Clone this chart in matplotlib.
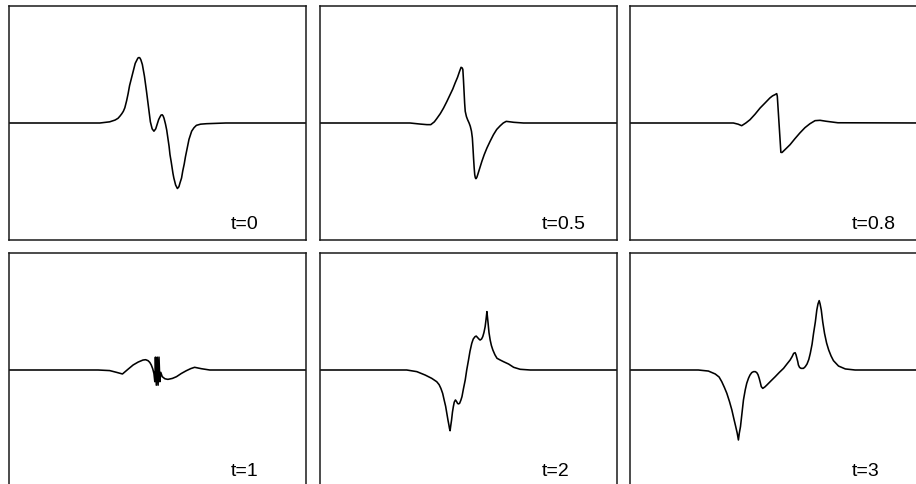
import matplotlib
matplotlib.use("Agg")
import matplotlib.pyplot as plt

# wave profiles; x is the fraction of the panel width,
# y is in units of the panel half-height
labels = ["t=0", "t=0.5", "t=0.8", "t=1", "t=2", "t=3"]

x_t0 = [0.0, 0.306, 0.339, 0.357, 0.367, 0.374, 0.380, 0.385, 0.390, 0.396, 0.401, 0.406,
        0.412, 0.417, 0.421, 0.425, 0.429, 0.434, 0.438, 0.441, 0.444, 0.449, 0.456, 0.463,
        0.470, 0.476, 0.482, 0.488, 0.494, 0.499, 0.504, 0.508, 0.512, 0.516, 0.519, 0.522,
        0.527, 0.531, 0.535, 0.539, 0.542, 0.546, 0.549, 0.552, 0.555, 0.561, 0.567, 0.572,
        0.576, 0.581, 0.585, 0.590, 0.594, 0.598, 0.606, 0.615, 0.623, 0.631, 0.645, 0.665,
        0.73, 1.0]
y_t0 = [0.0, 0.0, 0.01, 0.025, 0.04, 0.06, 0.08, 0.10, 0.13, 0.19, 0.25, 0.32,
        0.38, 0.43, 0.47, 0.51, 0.53, 0.555, 0.56, 0.555, 0.54, 0.50, 0.40, 0.27,
        0.13, 0.01, -0.05, -0.07, -0.05, -0.01, 0.03, 0.05, 0.068, 0.07, 0.06, 0.04,
        -0.01, -0.06, -0.13, -0.20, -0.27, -0.33, -0.38, -0.43, -0.47, -0.53, -0.56, -0.545,
        -0.51, -0.47, -0.41, -0.35, -0.29, -0.24, -0.14, -0.07, -0.04, -0.02, -0.01, -0.006,
        0.0, 0.0]

x_t05 = [0.0, 0.303, 0.337, 0.360, 0.373, 0.385, 0.393, 0.405, 0.416, 0.427, 0.438, 0.447,
         0.455, 0.463, 0.470, 0.475, 0.479, 0.481, 0.483, 0.485, 0.487, 0.489, 0.493, 0.497,
         0.502, 0.506, 0.510, 0.513, 0.515, 0.517, 0.519, 0.521, 0.523, 0.525, 0.528, 0.531,
         0.538, 0.545, 0.553, 0.562, 0.573, 0.584, 0.595, 0.607, 0.617, 0.627, 0.640, 0.652,
         0.685, 1.0]
y_t05 = [0.0, 0.0, -0.009, -0.014, -0.014, 0.01, 0.037, 0.08, 0.128, 0.183, 0.242, 0.29,
         0.342, 0.39, 0.442, 0.476, 0.47, 0.456, 0.37, 0.271, 0.17, 0.100, 0.055, 0.028,
         0.0, -0.028, -0.07, -0.128, -0.21, -0.299, -0.38, -0.442, -0.468, -0.476, -0.465, -0.442,
         -0.385, -0.328, -0.27, -0.214, -0.155, -0.100, -0.055, -0.023, 0.0, 0.014, 0.01, 0.006,
         0.0, 0.0]

x_t08 = [0.0, 0.303, 0.348, 0.364, 0.376, 0.390, 0.404, 0.421, 0.438, 0.455, 0.471, 0.480,
         0.488, 0.494, 0.496, 0.508, 0.512, 0.516, 0.527, 0.539, 0.555, 0.572, 0.589, 0.606,
         0.623, 0.640, 0.66, 0.70, 1.0]
y_t08 = [0.0, 0.0, 0.0, -0.01, -0.023, 0.0, 0.028, 0.075, 0.128, 0.172, 0.214, 0.232,
         0.242, 0.251, 0.228, -0.251, -0.252, -0.242, -0.215, -0.185, -0.135, -0.085, -0.04, -0.006,
         0.020, 0.023, 0.015, 0.002, 0.0]

x_t1 = [0.0, 0.30, 0.339, 0.362, 0.382, 0.400, 0.418, 0.435, 0.451, 0.460, 0.468, 0.474,
        0.479, 0.484, 0.488, 0.491, 0.493, 0.496, 0.499, 0.502, 0.505, 0.508, 0.511, 0.516,
        0.525, 0.535, 0.550, 0.564, 0.580, 0.597, 0.612, 0.625, 0.648, 0.676, 1.0]
y_t1 = [0.0, 0.0, -0.005, -0.02, -0.034, 0.005, 0.043, 0.068, 0.085, 0.088, 0.080, 0.065,
        0.043, 0.01, -0.03, -0.10, 0.11, -0.13, 0.11, -0.13, 0.11, -0.10, -0.02, -0.057,
        -0.075, -0.080, -0.072, -0.057, -0.03, -0.006, 0.012, 0.023, 0.011, 0.0, 0.0]

x_t2 = [0.0, 0.292, 0.326, 0.354, 0.376, 0.393, 0.401, 0.407, 0.413, 0.418, 0.423, 0.427,
        0.431, 0.434, 0.436, 0.438, 0.440, 0.443, 0.446, 0.449, 0.452, 0.456, 0.460, 0.463,
        0.466, 0.470, 0.474, 0.478, 0.483, 0.489, 0.494, 0.500, 0.505, 0.511, 0.516, 0.522,
        0.526, 0.530, 0.535, 0.539, 0.544, 0.548, 0.552, 0.556, 0.559, 0.562, 0.564, 0.566,
        0.569, 0.573, 0.577, 0.582, 0.589, 0.596, 0.607, 0.618, 0.635, 0.652, 0.674, 0.708,
        1.0]
y_t2 = [0.0, 0.0, -0.014, -0.043, -0.071, -0.100, -0.125, -0.157, -0.20, -0.256, -0.31, -0.370,
        -0.43, -0.470, -0.50, -0.519, -0.48, -0.427, -0.36, -0.313, -0.275, -0.256, -0.27, -0.285,
        -0.29, -0.285, -0.26, -0.228, -0.16, -0.085, 0.0, 0.085, 0.16, 0.228, 0.265, 0.285,
        0.29, 0.279, 0.265, 0.256, 0.265, 0.285, 0.32, 0.370, 0.43, 0.499, 0.45, 0.399,
        0.32, 0.256, 0.21, 0.171, 0.13, 0.100, 0.085, 0.071, 0.051, 0.023, 0.006, 0.0,
        0.0]

x_t3 = [0.0, 0.230, 0.264, 0.287, 0.300, 0.309, 0.318, 0.326, 0.335, 0.343, 0.350, 0.356,
        0.361, 0.365, 0.368, 0.372, 0.377, 0.382, 0.388, 0.393, 0.399, 0.404, 0.410, 0.416,
        0.422, 0.427, 0.431, 0.435, 0.439, 0.442, 0.447, 0.454, 0.461, 0.475, 0.489, 0.503,
        0.517, 0.528, 0.539, 0.546, 0.551, 0.556, 0.559, 0.562, 0.565, 0.567, 0.571, 0.576,
        0.584, 0.590, 0.596, 0.602, 0.607, 0.613, 0.618, 0.624, 0.629, 0.633, 0.637, 0.640,
        0.644, 0.649, 0.655, 0.662, 0.669, 0.677, 0.685, 0.702, 0.725, 0.758, 1.0]
y_t3 = [0.0, 0.0, -0.009, -0.034, -0.06, -0.100, -0.15, -0.199, -0.27, -0.342, -0.42, -0.484,
        -0.54, -0.598, -0.54, -0.484, -0.37, -0.256, -0.17, -0.114, -0.07, -0.043, -0.022, -0.014,
        -0.014, -0.023, -0.04, -0.071, -0.11, -0.142, -0.157, -0.145, -0.128, -0.092, -0.057, -0.02,
        0.014, 0.05, 0.085, 0.115, 0.142, 0.148, 0.13, 0.100, 0.07, 0.043, 0.022, 0.014,
        0.014, 0.028, 0.051, 0.09, 0.142, 0.22, 0.313, 0.41, 0.513, 0.565, 0.593, 0.565,
        0.513, 0.41, 0.313, 0.23, 0.171, 0.12, 0.080, 0.034, 0.009, 0.0, 0.0]

curves = [(x_t0, y_t0), (x_t05, y_t05), (x_t08, y_t08),
          (x_t1, y_t1), (x_t2, y_t2), (x_t3, y_t3)]

fig = plt.figure(figsize=(9.16, 4.85), dpi=100)
fig.patch.set_facecolor("white")

lefts = [9 / 916, 320 / 916, 630 / 916]
bottoms = [(485 - 241) / 485, (485 - 488) / 485]
w = 297 / 916
h = 234 / 485

for i, (xs, ys) in enumerate(curves):
    row, col = divmod(i, 3)
    ax = fig.add_axes([lefts[col], bottoms[row], w, h])
    ax.plot(xs, ys, color="black", lw=1.15, solid_joinstyle="round")
    ax.set_xlim(0, 1)
    ax.set_ylim(-1, 1)
    ax.set_xticks([])
    ax.set_yticks([])
    for s in ax.spines.values():
        s.set_color("#1a1a1a")
        s.set_linewidth(1.1)
    ax.text(0.748, 0.05, labels[i], transform=ax.transAxes, fontsize=14,
            family="Liberation Sans", ha="left", va="baseline")

fig.savefig("out.png", dpi=100)
